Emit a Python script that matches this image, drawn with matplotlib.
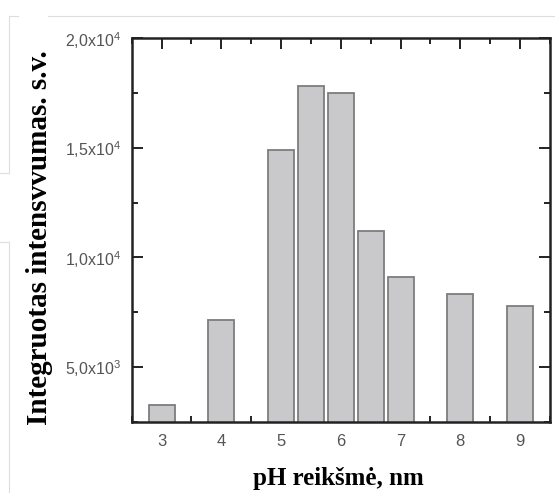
import matplotlib
matplotlib.use("Agg")
import matplotlib.pyplot as plt
from matplotlib.ticker import MultipleLocator
from matplotlib.lines import Line2D

# pH values and integrated intensity (arb. units)
ph_values = [3, 4, 5, 5.5, 6, 6.5, 7, 8, 9]
intensity = [3250, 7150, 14900, 17800, 17500, 11200, 9100, 8350, 7800]

x_ticks = [3, 4, 5, 6, 7, 8, 9]
y_ticks = [5000, 10000, 15000, 20000]
y_tick_labels = ["5,0x10$^{3}$", "1,0x10$^{4}$", "1,5x10$^{4}$", "2,0x10$^{4}$"]

x_label = "pH reikšmė, nm"
y_label = "Integruotas intensvvumas. s.v."

plt.rcParams["mathtext.fontset"] = "custom"
plt.rcParams["mathtext.rm"] = "Liberation Sans"
plt.rcParams["mathtext.default"] = "regular"

fig = plt.figure(figsize=(5.55, 4.93), dpi=100)
W, H = 555, 493
ax = fig.add_axes([131.7 / W, 1 - 421.7 / H, (550 - 131.7) / W, (421.7 - 38.3) / H])

ax.bar(ph_values, intensity, width=0.435, color="#c9c9cc",
       edgecolor="#7d7d7d", linewidth=1.3, zorder=2)

ax.set_xlim(2.5, 9.5)
ax.set_ylim(2500, 20000)
ax.set_axisbelow(True)

ax.xaxis.set_minor_locator(MultipleLocator(0.5))
ax.yaxis.set_minor_locator(MultipleLocator(2500))

ax.set_xticks(x_ticks)
ax.set_xticklabels([str(v) for v in x_ticks])
ax.set_yticks(y_ticks)
ax.set_yticklabels(y_tick_labels)

ax.tick_params(which="both", direction="in", top=True, right=True,
               color="#222222", width=1.4)
ax.tick_params(which="major", length=8)
ax.tick_params(which="minor", length=4.5)
ax.tick_params(axis="x", which="major", pad=9, labelsize=12, labelcolor="#555555")
ax.tick_params(axis="y", which="major", pad=8, labelsize=11.5, labelcolor="#555555")
for lbl in ax.get_xticklabels() + ax.get_yticklabels():
    lbl.set_family("Liberation Sans")

for sp in ax.spines.values():
    sp.set_linewidth(1.8)
    sp.set_color("#222222")

fig.text(338.5 / W, 1 - 479 / H, x_label, ha="center", va="center",
         fontsize=18, fontweight="bold", family="Liberation Serif")
fig.text(40 / W, 1 - 237.5 / H, y_label, ha="center", va="center", rotation=90,
         fontsize=21, fontweight="bold", family="Liberation Serif")

# faint page border lines
edge = "#dddddd"
fig.add_artist(Line2D([48 / W, 1], [1 - 15.7 / H] * 2, color=edge, lw=0.8))
fig.add_artist(Line2D([9 / W, 18 / W], [1 - 15.7 / H] * 2, color=edge, lw=0.8))
fig.add_artist(Line2D([9 / W] * 2, [1 - 15.7 / H, 1 - 173 / H], color=edge, lw=0.8))
fig.add_artist(Line2D([0, 9 / W], [1 - 173 / H] * 2, color=edge, lw=0.8))
fig.add_artist(Line2D([9 / W] * 2, [1 - 242 / H, 0], color=edge, lw=0.8))
fig.add_artist(Line2D([0, 9 / W], [1 - 242 / H] * 2, color=edge, lw=0.8))

fig.savefig("out.png", dpi=100)
